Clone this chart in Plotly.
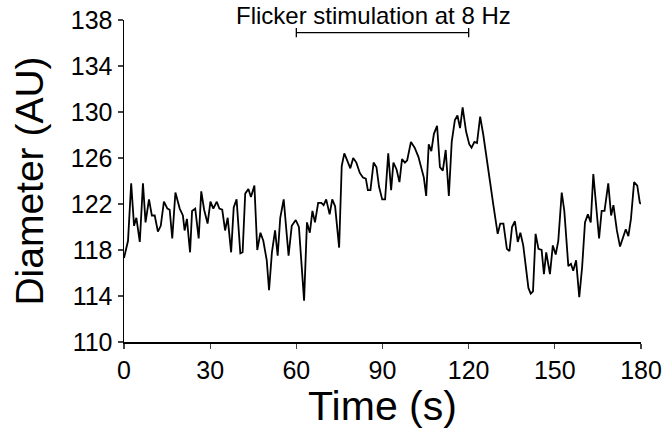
import plotly.graph_objects as go

time_s = [0.0, 1.4, 2.5, 3.5, 4.3, 5.5, 6.6, 7.5, 8.7, 9.7, 10.7, 11.8, 12.8, 13.9, 15.1, 15.9,
          16.8, 17.9, 19.4, 20.5, 21.1, 21.9, 23.0, 23.7, 24.8, 26.0, 26.9, 27.9, 29.1, 30.1,
          31.1, 32.3, 33.2, 34.2, 35.2, 36.1, 37.3, 38.2, 39.2, 40.5, 41.3, 42.2, 43.3, 44.2,
          45.4, 46.4, 47.5, 48.5, 49.7, 50.5, 51.5, 52.6, 53.5, 54.4, 55.6, 56.5, 57.3, 58.4,
          59.8, 60.9, 61.7, 62.7, 63.7, 64.7, 65.6, 66.5, 67.6, 68.7, 69.5, 70.4, 71.6, 72.5,
          73.5, 74.9, 75.8, 76.7, 77.7, 78.8, 79.8, 80.9, 82.1, 83.2, 84.2, 84.9, 85.8, 86.9,
          87.9, 88.8, 89.9, 90.9, 92.0, 93.0, 93.8, 94.9, 95.9, 96.8, 97.8, 98.6, 99.9, 101.2,
          102.5, 103.7, 104.4, 105.2, 106.1, 107.0, 107.9, 109.0, 110.0, 111.0, 112.0, 113.1,
          114.1, 115.2, 116.1, 117.0, 117.9, 119.1, 120.2, 121.0, 122.0, 122.9, 124.0, 125.1,
          126.3, 127.4, 128.6, 129.4, 130.1, 131.0, 132.1, 133.3, 134.2, 135.1, 136.1, 137.1,
          138.0, 139.0, 140.0, 140.8, 141.6, 142.4, 143.3, 144.3, 145.4, 146.2, 147.0, 148.3,
          149.3, 150.3, 151.2, 152.4, 153.3, 154.7, 155.6, 156.4, 157.4, 158.5, 159.5, 160.5,
          161.5, 162.5, 163.4, 164.4, 165.4, 166.3, 167.3, 168.6, 169.6, 170.4, 171.6, 172.7,
          173.9, 174.7, 175.6, 176.5, 177.6, 178.7, 179.6, 180.3]

diameter_au = [117.3, 118.8, 123.8, 120.1, 120.8, 118.7, 123.8, 120.4, 122.4, 121.0, 121.0, 119.6,
               120.1, 122.2, 121.6, 121.5, 119.0, 123.0, 121.6, 121.0, 119.7, 120.7, 117.8, 121.4,
               121.6, 119.0, 123.1, 121.5, 120.3, 122.2, 121.6, 122.2, 121.6, 121.5, 119.7, 120.8,
               117.8, 121.7, 122.4, 117.7, 117.8, 122.9, 123.3, 122.6, 123.6, 118.0, 119.5, 118.8,
               117.1, 114.5, 117.8, 119.7, 117.5, 120.8, 122.4, 119.4, 117.5, 120.1, 120.6, 120.0,
               116.8, 113.6, 120.4, 119.5, 121.4, 120.4, 122.1, 122.1, 121.9, 122.4, 121.1, 122.4,
               121.8, 118.2, 125.3, 126.4, 125.8, 125.1, 126.0, 125.6, 124.7, 124.3, 124.2, 123.2,
               123.2, 125.6, 125.2, 123.5, 122.4, 122.4, 126.4, 123.2, 125.6, 125.0, 123.9, 125.9,
               125.6, 125.8, 127.4, 126.9, 126.1, 125.1, 124.3, 122.7, 127.2, 126.6, 128.1, 128.8,
               125.2, 124.9, 126.7, 122.7, 127.4, 129.3, 129.7, 128.6, 130.4, 128.3, 127.2, 126.9,
               127.4, 127.3, 129.6, 128.0, 126.1, 124.0, 121.9, 120.3, 119.4, 120.3, 120.3, 118.1,
               117.9, 120.0, 120.5, 118.7, 119.5, 118.4, 116.2, 114.7, 114.2, 114.4, 119.4, 118.1,
               118.0, 115.9, 117.8, 115.9, 118.4, 117.6, 118.8, 123.0, 121.4, 116.6, 116.8, 116.2,
               117.1, 113.9, 116.5, 120.4, 121.1, 120.4, 124.6, 121.7, 119.0, 121.4, 121.4, 123.8,
               121.0, 121.9, 119.7, 118.3, 119.2, 119.8, 119.2, 120.7, 123.9, 123.6, 122.1, 122.0]

x_ticks = [0, 30, 60, 90, 120, 150, 180]
y_ticks = [110, 114, 118, 122, 126, 130, 134, 138]

stim_start = 60
stim_end = 120
bracket_level = 136.9
stim_label = "Flicker stimulation at 8 Hz"

FONT = "Liberation Sans, Arial, sans-serif"

fig = go.Figure()
fig.add_trace(go.Scatter(x=time_s, y=diameter_au, mode="lines",
                         line=dict(color="black", width=1.8), showlegend=False,
                         cliponaxis=False, hoverinfo="skip"))

# stimulation bracket
fig.add_trace(go.Scatter(x=[stim_start, stim_end], y=[bracket_level, bracket_level],
                         mode="lines", line=dict(color="black", width=1.3),
                         showlegend=False, cliponaxis=False, hoverinfo="skip"))
for xv in (stim_start, stim_end):
    fig.add_shape(type="line", xref="x", yref="y", x0=xv, x1=xv,
                  y0=bracket_level - 0.4, y1=bracket_level + 0.4,
                  line=dict(color="black", width=1.3))

fig.add_annotation(x=(stim_start + stim_end) / 2 - 3, xref="x", y=1.0, yref="paper",
                   text=stim_label, showarrow=False, yanchor="middle", yshift=5,
                   font=dict(family=FONT, size=24, color="black"))

fig.update_layout(
    template="none",
    width=668, height=445,
    margin=dict(l=124, r=27, t=20, b=103, autoexpand=False),
    paper_bgcolor="white", plot_bgcolor="white",
    font=dict(family=FONT, color="black"),
    xaxis=dict(range=[0, 180], tickvals=x_ticks, ticks="outside", ticklen=5,
               tickwidth=1.3, showline=True, linecolor="black", linewidth=1.5,
               showgrid=False, zeroline=False, tickfont=dict(size=25),
               ticklabeloverflow="allow", automargin=False,
               title=dict(text="Time (s)", font=dict(size=41), standoff=0)),
    yaxis=dict(range=[110, 138], tickvals=y_ticks, ticks="outside", ticklen=5,
               tickwidth=1.3, showline=True, linecolor="black", linewidth=1.5,
               showgrid=False, zeroline=False, tickfont=dict(size=25),
               ticklabeloverflow="allow", automargin=False,
               title=dict(text="Diameter (AU)", font=dict(size=39), standoff=15)),
)

fig.write_html("out.html", config={"displayModeBar": False, "staticPlot": True},
               post_script="document.body.style.margin='0';")
